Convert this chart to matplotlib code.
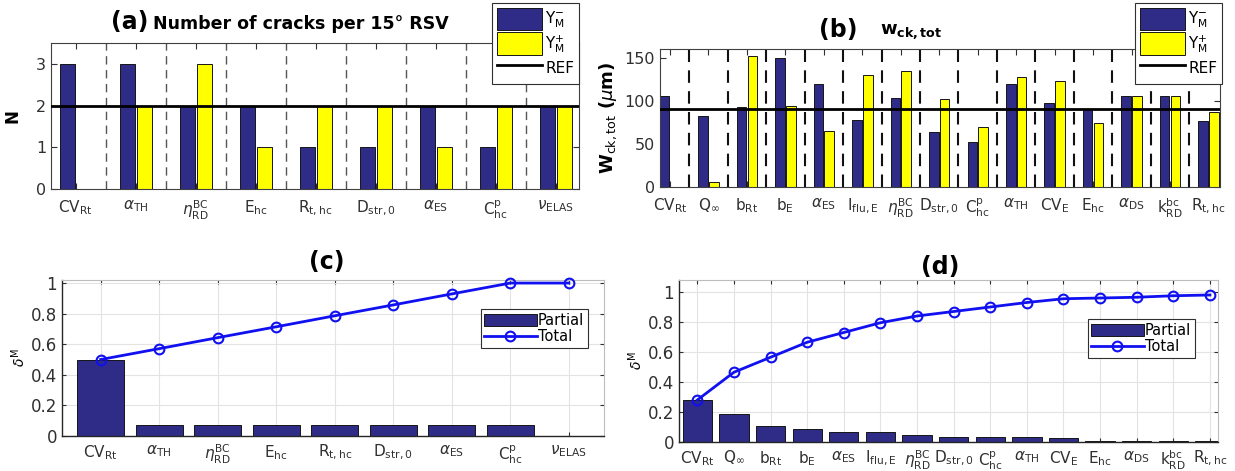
import numpy as np
import matplotlib.pyplot as plt

plt.rcParams['font.family'] = ['DejaVu Sans']
plt.rcParams['mathtext.fontset'] = 'dejavusans'

# parameter names for the two case studies
params_a = [r'CV$_{\rm Rt}$', r'$\alpha_{\rm TH}$', r'$\eta^{\rm BC}_{\rm RD}$', r'E$_{\rm hc}$',
            r'R$_{\rm t,hc}$', r'D$_{\rm str,0}$', r'$\alpha_{\rm ES}$', r'C$^{\rm p}_{\rm hc}$',
            r'$\nu_{\rm ELAS}$']
params_b = [r'CV$_{\rm Rt}$', r'Q$_{\infty}$', r'b$_{\rm Rt}$', r'b$_{\rm E}$', r'$\alpha_{\rm ES}$',
            r'I$_{\rm flu,E}$', r'$\eta^{\rm BC}_{\rm RD}$', r'D$_{\rm str,0}$', r'C$^{\rm p}_{\rm hc}$',
            r'$\alpha_{\rm TH}$', r'CV$_{\rm E}$', r'E$_{\rm hc}$', r'$\alpha_{\rm DS}$',
            r'k$^{\rm bc}_{\rm RD}$', r'R$_{\rm t,hc}$']

# (a) number of cracks per 15 deg RSV
n_minus = [3, 3, 2, 2, 1, 1, 2, 1, 2]
n_plus = [0, 2, 3, 1, 2, 2, 1, 2, 2]
n_ref = 2

# (b) total crack width (um)
w_minus = [105, 82, 93, 150, 120, 78, 103, 64, 52, 120, 97, 91, 105, 105, 76]
w_plus = [0, 6, 152, 94, 65, 130, 135, 102, 69, 127, 123, 74, 105, 105, 87]
w_ref = 90

# (c) sensitivity indices for N
partial_c = [0.5, 0.0714, 0.0714, 0.0714, 0.0714, 0.0714, 0.0714, 0.0714, 0.0]
total_c = [0.5, 0.571, 0.643, 0.714, 0.786, 0.857, 0.929, 1.0, 1.0]

# (d) sensitivity indices for w_ck,tot
partial_d = [0.28, 0.185, 0.105, 0.09, 0.065, 0.065, 0.045, 0.035, 0.035, 0.035,
             0.03, 0.006, 0.006, 0.006, 0.006]
total_d = [0.28, 0.465, 0.565, 0.665, 0.73, 0.795, 0.84, 0.87, 0.9, 0.93,
           0.955, 0.96, 0.965, 0.975, 0.98]

navy = '#2E2C86'
yellow = '#FFFF00'
blue = '#1010F0'
tick_col = '#303030'

fig = plt.figure(figsize=(12.35, 4.71), dpi=100)
W, H = 1235, 471


def add_axes(left, right, top, bottom):
    return fig.add_axes([left / W, 1 - bottom / H, (right - left) / W, (bottom - top) / H])


def bar_panel(ax, labels, minus, plus, ref, xlim, ylim, yticks, dash_col, dash_lw, leg_anchor):
    x = np.arange(1, len(labels) + 1)
    b1 = ax.bar(x - 0.14, minus, 0.25, color=navy, edgecolor='#151515', lw=0.7,
                label=r'Y$^{-}_{\rm M}$', zorder=2)
    b2 = ax.bar(x + 0.14, plus, 0.25, color=yellow, edgecolor='#151515', lw=0.7,
                label=r'Y$^{+}_{\rm M}$', zorder=2)
    for xs in x[:-1] + 0.5:
        ax.axvline(xs, color=dash_col, lw=dash_lw, ls=(0, (6, 4)), zorder=1)
    ln = ax.axhline(ref, color='k', lw=2, label='REF', zorder=3)
    ax.set_xlim(*xlim)
    ax.set_ylim(*ylim)
    ax.set_yticks(yticks)
    ax.set_xticks(x)
    ax.set_xticklabels(labels)
    ax.tick_params(direction='in', top=True, right=True, length=4, colors=tick_col,
                   labelsize=11.5, width=0.8)
    ax.tick_params(axis='x', labelsize=11, pad=7)
    for s in ax.spines.values():
        s.set_color('#404040')
        s.set_linewidth(0.8)
    leg = ax.legend([b1, b2, ln], [b1.get_label(), b2.get_label(), 'REF'],
                    loc='upper right', bbox_to_anchor=leg_anchor, bbox_transform=fig.transFigure,
                    fontsize=11, handlelength=3.0, handleheight=1.9, handletextpad=0.2,
                    labelspacing=0.12, borderpad=0.3, borderaxespad=0, fancybox=False,
                    framealpha=1, edgecolor='#303030')
    leg.get_frame().set_linewidth(0.8)
    leg.set_zorder(10)


def index_panel(ax, labels, partial, total, xlim, ylim, leg_anchor):
    x = np.arange(1, len(labels) + 1)
    bars = ax.bar(x, partial, 0.8, color=navy, edgecolor='#151515', lw=0.7, zorder=2)
    ln, = ax.plot(x, total, color=blue, lw=2, marker='o', ms=7, mfc='none', mew=1.5,
                  zorder=3, clip_on=False)
    ax.set_xlim(*xlim)
    ax.set_ylim(*ylim)
    ax.set_yticks([0, 0.2, 0.4, 0.6, 0.8, 1])
    ax.set_yticklabels(['0', '0.2', '0.4', '0.6', '0.8', '1'])
    ax.set_xticks(x)
    ax.set_xticklabels(labels)
    ax.grid(True, color='#e3e3e3', lw=0.8, zorder=0)
    ax.set_axisbelow(True)
    ax.tick_params(direction='in', top=True, right=True, length=3, colors=tick_col,
                   labelsize=12, width=0.8)
    ax.tick_params(axis='x', labelsize=11, pad=5)
    for k in ['top', 'right']:
        ax.spines[k].set_color('#bdbdbd')
    for k in ['left', 'bottom']:
        ax.spines[k].set_color('#262626')
        ax.spines[k].set_linewidth(1.0)
    ax.set_ylabel(r'$\delta^{\rm M}$', fontsize=10, fontweight='bold', labelpad=2)
    leg = ax.legend([bars, ln], ['Partial', 'Total'],
                    loc='upper right', bbox_to_anchor=leg_anchor, bbox_transform=fig.transFigure,
                    fontsize=10.5, handlelength=3.6, handleheight=0.9, handletextpad=0.1,
                    labelspacing=0.1, borderpad=0.25, borderaxespad=0, fancybox=False,
                    framealpha=1, edgecolor='#303030')
    leg.get_frame().set_linewidth(0.8)


# (a)
ax_a = add_axes(51, 579, 43, 189)
bar_panel(ax_a, params_a, n_minus, n_plus, n_ref, (0.59, 9.39), (0, 3.5), [0, 1, 2, 3],
          '#555555', 1.0, (579 / W, 1 - 3 / H))
ax_a.set_ylabel('N', fontsize=12, fontweight='bold', labelpad=10)
fig.text(130 / W, 1 - 22 / H, '(a)', fontsize=17, fontweight='bold', ha='center', va='center')
fig.text(153 / W, 1 - 24 / H, 'Number of cracks per 15° RSV', fontsize=12.5,
         fontweight='bold', ha='left', va='center')

# (b)
ax_b = add_axes(660, 1220, 49, 187)
bar_panel(ax_b, params_b, w_minus, w_plus, w_ref, (0.74, 15.3), (0, 160), [0, 50, 100, 150],
          '#111111', 1.5, (1222 / W, 1 - 3 / H))
ax_b.set_ylabel(r'W$_{\rm ck,tot}$ ($\mu$m)', fontsize=13, fontweight='bold', labelpad=4)
fig.text(838 / W, 1 - 30 / H, '(b)', fontsize=17, fontweight='bold', ha='center', va='center')
fig.text(880 / W, 1 - 32 / H, r'w$_{\bf ck,tot}$', fontsize=13, fontweight='bold',
         ha='left', va='center')

# (c)
ax_c = add_axes(62, 604, 280, 436)
index_panel(ax_c, params_a, partial_c, total_c, (0.34, 9.6), (0, 1.02), (588 / W, 1 - 309 / H))
fig.text(327 / W, 1 - 262 / H, '(c)', fontsize=17, fontweight='bold', ha='center', va='center')

# (d)
ax_d = add_axes(679, 1218, 280, 442)
index_panel(ax_d, params_b, partial_d, total_d, (0.5, 15.22), (0, 1.08), (1195 / W, 1 - 319 / H))
fig.text(940 / W, 1 - 267 / H, '(d)', fontsize=17, fontweight='bold', ha='center', va='center')

fig.savefig('out.png', dpi=100, facecolor='white')
